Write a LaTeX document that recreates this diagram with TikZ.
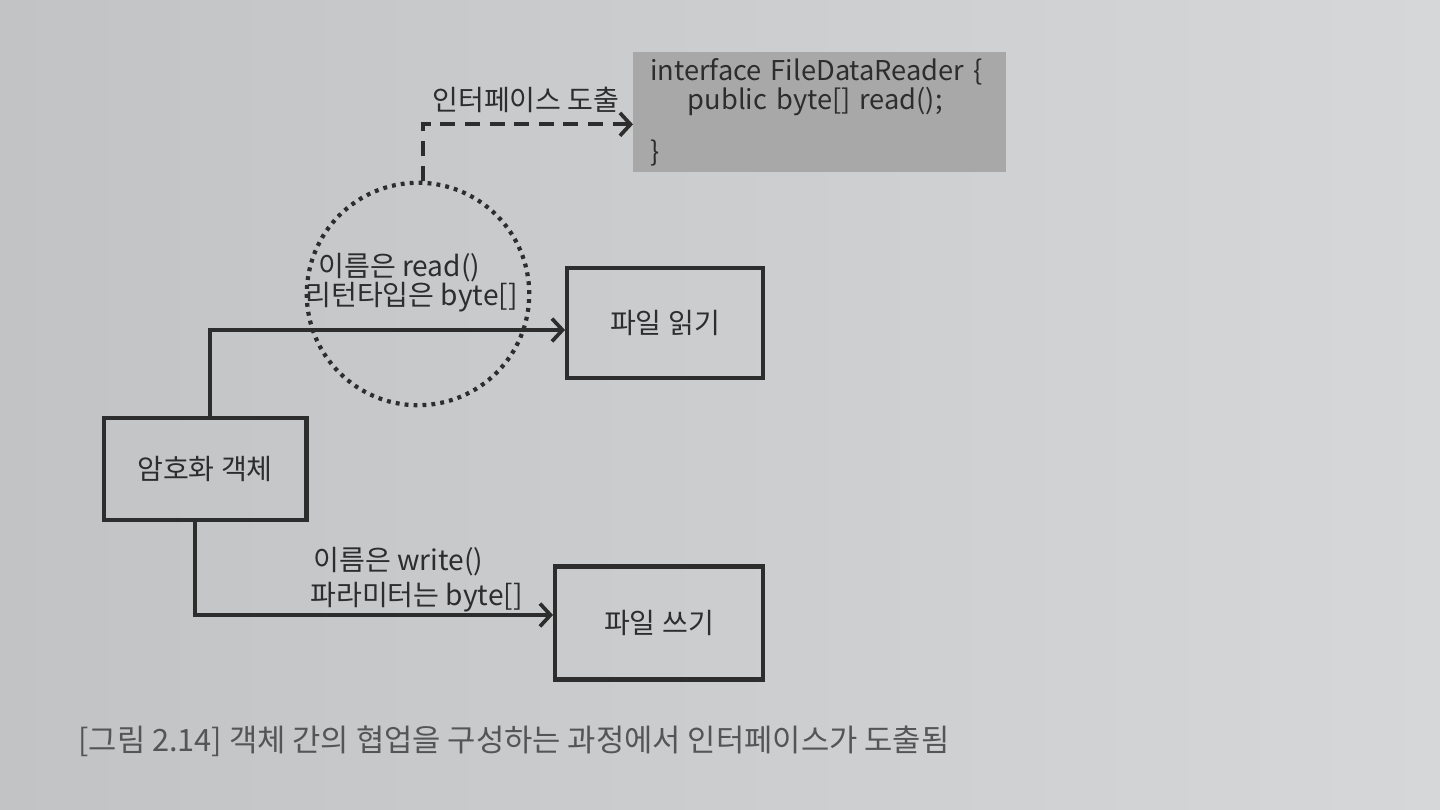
\documentclass[tikz,border=0pt]{standalone}
\usepackage{fontspec}
\setmainfont{Noto Sans CJK KR}
\usetikzlibrary{arrows.meta}
\definecolor{pageL}{RGB}{194,195,197}
\definecolor{pageR}{RGB}{214,215,217}
\definecolor{ink}{RGB}{45,45,45}
\definecolor{codebg}{RGB}{168,168,168}
\definecolor{capgray}{RGB}{85,85,85}
\begin{document}
\begin{tikzpicture}[x=0.02cm,y=-0.02cm,
  box/.style={draw=ink, line width=2.3pt, inner sep=0pt, text=ink, font=\fontsize{16}{19}\selectfont},
  flow/.style={draw=ink, line width=2.1pt, -{Straight Barb[length=6pt,width=13pt,line width=2.1pt]}},
  derive/.style={draw=ink, line width=2.3pt, dash pattern=on 8.5pt off 5.5pt, -{Straight Barb[length=6pt,width=13pt,line width=2.1pt]}},
  lbl/.style={text=ink, inner sep=0pt, anchor=west, font=\fontsize{16}{19}\selectfont}]
\useasboundingbox (0,0) rectangle (1440,810);
\shade[left color=pageL, right color=pageR] (0,0) rectangle (1440,810);
% code box
\node[fill=codebg, anchor=north west, minimum width=7.45cm, minimum height=2.4cm, text width=6.77cm,
  inner xsep=0.34cm, inner ysep=0pt, align=left, text=ink, font=\fontsize{15.5}{15}\selectfont]
  (code) at (633,52) {\raisebox{-3pt}{interface FileDataReader \{}\\\hspace*{0.75cm}public byte[] read();\\[0.45cm]\}};
% dotted circle
\node[circle, draw=ink, line width=2.4pt, dash pattern=on 2.2pt off 2.9pt, minimum size=4.45cm] (cir) at (418,294) {};
% boxes
\node[box, minimum width=3.92cm, minimum height=2.2cm] (read) at (665,323) {파일 읽기};
\node[box, minimum width=4.06cm, minimum height=2.04cm] (enc) at (205,469) {암호화 객체};
\node[box, minimum width=4.16cm, minimum height=2.26cm] (write) at (659,623) {파일 쓰기};
% connectors
\draw[flow] ([xshift=0.1cm]enc.north) |- ([yshift=-0.14cm]read.west);
\draw[flow] ([xshift=-0.2cm]enc.south) |- ([yshift=0.16cm]write.west);
\draw[derive] ([xshift=0.1cm]cir.north) |- ([yshift=-0.24cm]code.west);
% labels
\node[lbl] (lrd1) at (318,268) {이름은 read()};
\node[lbl] (lrd2) at (305,297) {리턴타입은 byte[]};
\node[lbl] (lwr1) at (313,562) {이름은 write()};
\node[lbl] (lwr2) at (310,597) {파라미터는 byte[]};
\node[lbl] (lder) at (432,100) {인터페이스 도출};
% caption
\node[anchor=west, inner sep=0pt, text=capgray, font=\fontsize{17.5}{20}\selectfont] (cap) at (78,741)
  {[그림 2.14] 객체 간의 협업을 구성하는 과정에서 인터페이스가 도출됨};
\end{tikzpicture}
\end{document}
